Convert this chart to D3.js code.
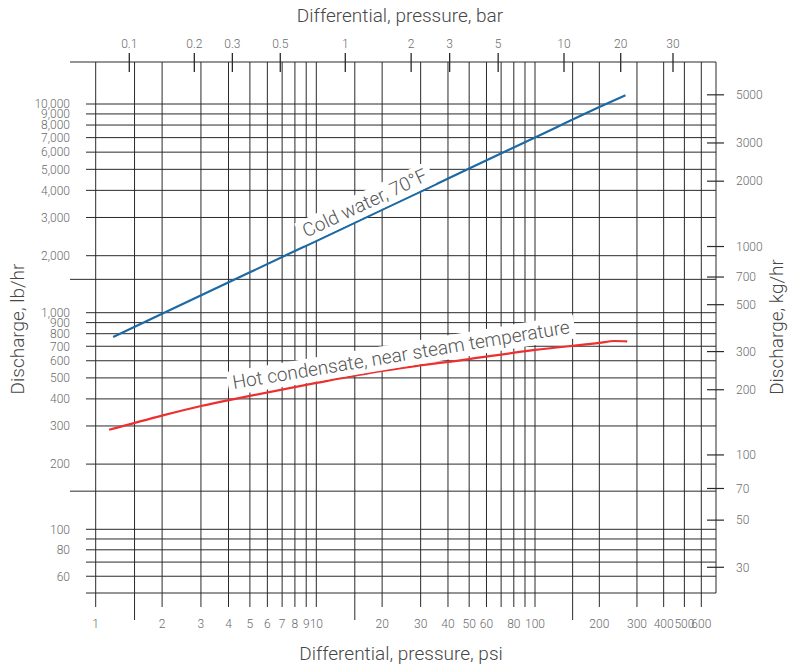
<!DOCTYPE html>
<html><head><meta charset="utf-8">
<script src="https://cdn.jsdelivr.net/npm/d3@7"></script>
<style>
body{margin:0;background:#fff}
svg{display:block;background:#fff}
text{font-family:Roboto,"DejaVu Sans",sans-serif;font-weight:300}
</style>
</head><body>
<svg id="c" width="789" height="666"></svg>
<script>
// ---------- data ----------
const psiGrid = [1,2,3,4,5,6,7,8,9,10,20,30,40,50,60,70,80,90,100,200,300,400,500,600];
const psiLong = [1.5,15,150];
const psiLabels = [1,2,3,4,5,6,7,8,9,10,20,30,40,50,60,80,100,200,300,400,500,600];
const barLabels = [0.1,0.2,0.3,0.5,1,2,3,5,10,20,30];
const lbGrid = [60,70,80,90,100,200,300,400,500,600,700,800,900,1000,2000,3000,4000,5000,6000,7000,8000,9000,10000];
const lbLong = [150,1500];
const lbLabels = [60,80,100,200,300,400,500,600,700,800,900,1000,2000,3000,4000,5000,6000,7000,8000,9000,10000];
const kgLabels = [30,50,70,100,200,300,500,700,1000,2000,3000,5000];
const coldPsi = [1.2,2,5,10,20,50,100,200,265];
const coldLb  = [773,990,1634,2340,3254,5039,7010,9680,10980];
const hotPsi  = [1.15,2,3,5,10,20,50,100,200,235,270];
const hotLb   = [288,335,371,413,474,538,611,673,725,740,738];
const LB_PER_KG = 2.20462;

(function () {
const svg = d3.select("#c");
const x = d3.scaleLog().domain([1,10,100,600]).range([95.7,316.3,535,701.3]);
const y = d3.scaleLog().domain([50,100,1000,2000,10000]).range([593,529.3,312.7,255.7,104]);
const xb = d3.scaleLog().domain([0.1,1,10,20,30]).range([129.3,345.3,564,620.7,673]);
const pLeft = 86, pRight = 716, pTop = 62, pBottom = y(50);
const gridColor = "#2a2a2a", tickColor = "#6b6b6b", titleColor = "#474747";
const tickSize = 12, titleSize = 19;

const g = svg.append("g");
g.selectAll(".hg").data(lbGrid).join("line")
  .attr("x1", pLeft).attr("x2", pRight)
  .attr("y1", d => y(d)).attr("y2", d => y(d))
  .attr("stroke", gridColor).attr("stroke-width", 1);
g.selectAll(".hl").data(lbLong).join("line")
  .attr("x1", 70).attr("x2", pRight)
  .attr("y1", d => y(d)).attr("y2", d => y(d))
  .attr("stroke", gridColor).attr("stroke-width", 1);
g.append("line").attr("x1", pLeft).attr("x2", pRight).attr("y1", pBottom).attr("y2", pBottom)
  .attr("stroke", gridColor);
g.append("line").attr("x1", 70).attr("x2", pRight).attr("y1", pTop).attr("y2", pTop)
  .attr("stroke", gridColor);
g.append("line").attr("x1", pRight).attr("x2", pRight).attr("y1", pTop).attr("y2", pBottom)
  .attr("stroke", gridColor);
g.selectAll(".vg").data(psiGrid).join("line")
  .attr("x1", d => x(d)).attr("x2", d => x(d))
  .attr("y1", pTop).attr("y2", 607)
  .attr("stroke", gridColor);
g.selectAll(".vl").data(psiLong).join("line")
  .attr("x1", d => x(d)).attr("x2", d => x(d))
  .attr("y1", pTop).attr("y2", 620)
  .attr("stroke", gridColor);

// top bar ticks
g.selectAll(".bt").data(barLabels).join("line")
  .attr("x1", d => xb(d)).attr("x2", d => xb(d))
  .attr("y1", 53).attr("y2", 72)
  .attr("stroke", gridColor).attr("stroke-width", 1.3);
svg.selectAll(".btl").data(barLabels).join("text")
  .attr("x", d => xb(d)).attr("y", 48)
  .attr("text-anchor", "middle").attr("font-size", tickSize).attr("fill", tickColor)
  .text(d => d);

// right kg ticks
g.selectAll(".kt").data(kgLabels).join("line")
  .attr("x1", 707).attr("x2", 724)
  .attr("y1", d => y(d * LB_PER_KG)).attr("y2", d => y(d * LB_PER_KG))
  .attr("stroke", gridColor).attr("stroke-width", 1.2);
svg.selectAll(".ktl").data(kgLabels).join("text")
  .attr("x", 736).attr("y", d => y(d * LB_PER_KG) + 4.3)
  .attr("font-size", tickSize).attr("fill", tickColor)
  .text(d => d);

// left labels
svg.selectAll(".ll").data(lbLabels).join("text")
  .attr("x", 70).attr("y", d => y(d) + 4.3)
  .attr("text-anchor", "end").attr("font-size", tickSize).attr("fill", tickColor)
  .text(d => d3.format(",")(d));

// bottom labels
svg.selectAll(".bl").data(psiLabels).join("text")
  .attr("x", d => x(d)).attr("y", 628)
  .attr("text-anchor", "middle").attr("font-size", tickSize).attr("fill", tickColor)
  .text(d => d);

// titles
svg.append("text").attr("x", 400).attr("y", 22).attr("text-anchor", "middle")
  .attr("font-size", titleSize).attr("fill", titleColor).text("Differential, pressure, bar");
svg.append("text").attr("x", 401).attr("y", 660).attr("text-anchor", "middle")
  .attr("font-size", titleSize).attr("fill", titleColor).text("Differential, pressure, psi");
svg.append("text").attr("transform", "translate(24,329) rotate(-90)").attr("text-anchor", "middle")
  .attr("font-size", titleSize).attr("fill", titleColor).text("Discharge, lb/hr");
svg.append("text").attr("transform", "translate(783,327) rotate(-90)").attr("text-anchor", "middle")
  .attr("font-size", titleSize).attr("fill", titleColor).text("Discharge, kg/hr");

// curves
const cold = coldPsi.map((p, i) => [x(p), y(coldLb[i])]);
const hot = hotPsi.map((p, i) => [x(p), y(hotLb[i])]);

function label(pts, psiAt, offset, txt) {
  const px = x(psiAt);
  const ly = d3.scaleLinear().domain(pts.map(d => d[0])).range(pts.map(d => d[1]));
  const a = pts[1], b = pts[pts.length - 3];
  const ang = Math.atan2(b[1] - a[1], b[0] - a[0]) * 180 / Math.PI;
  const lg = svg.append("g").attr("transform", `translate(${px},${ly(px)}) rotate(${ang})`);
  const rect = lg.append("rect").attr("fill", "#fff");
  const t = lg.append("text").attr("x", 0).attr("y", -offset)
    .attr("font-size", titleSize).attr("fill", "#555").text(txt);
  const bb = t.node().getBBox();
  rect.attr("x", bb.x - 5).attr("y", bb.y).attr("width", bb.width + 10).attr("height", bb.height + 1);
  return lg;
}
const lc = label(cold, 9.3, 7, "Cold water, 70°F");
const lh = label(hot, 4.3, 10, "Hot condensate, near steam temperature");

const line = d3.line().curve(d3.curveMonotoneX);
svg.append("path").attr("d", line(cold)).attr("fill", "none")
  .attr("stroke", "#1d69a3").attr("stroke-width", 2.2);
svg.append("path").attr("d", line(hot)).attr("fill", "none")
  .attr("stroke", "#ec3030").attr("stroke-width", 2.2);
lc.raise(); lh.raise();
})();
</script>
</body></html>
